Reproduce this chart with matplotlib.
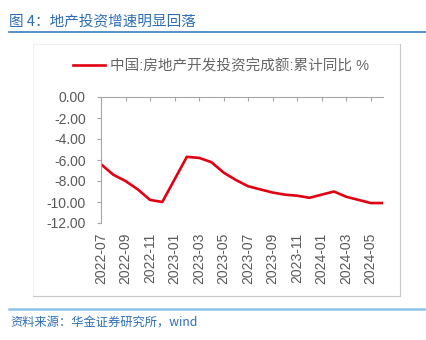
# -*- coding: utf-8 -*-

import matplotlib
matplotlib.use('Agg')
import matplotlib.pyplot as plt
from matplotlib.lines import Line2D
import pandas as pd

plt.rcParams['font.family'] = ['Liberation Sans', 'Noto Sans CJK SC', 'DejaVu Sans']
plt.rcParams['axes.unicode_minus'] = False

# 房地产开发投资完成额累计同比, 1月与2月合并公布
months = ['2022-07', '2022-08', '2022-09', '2022-10', '2022-11', '2022-12',
          '2023-02', '2023-03', '2023-04', '2023-05', '2023-06', '2023-07',
          '2023-08', '2023-09', '2023-10', '2023-11', '2023-12',
          '2024-02', '2024-03', '2024-04', '2024-05', '2024-06']
invest_yoy = [-6.4, -7.4, -8.0, -8.8, -9.8, -10.0,
              -5.7, -5.8, -6.2, -7.2, -7.9, -8.5,
              -8.8, -9.1, -9.3, -9.4, -9.6,
              -9.0, -9.5, -9.8, -10.1, -10.1]
tick_labels = ['2022-07', '2022-09', '2022-11', '2023-01', '2023-03', '2023-05',
               '2023-07', '2023-09', '2023-11', '2024-01', '2024-03', '2024-05']
y_ticks = [0, -2, -4, -6, -8, -10, -12]

title = '图 4：地产投资增速明显回落'
series_name = '中国:房地产开发投资完成额:累计同比 %'
source = '资料来源：华金证券研究所，wind'

W, H = 426, 340
start = pd.Period('2022-07', freq='M')


def month_pos(m):
    return (pd.Period(m, freq='M') - start).n


x = [month_pos(m) for m in months]
xt = [month_pos(m) for m in tick_labels]

fig = plt.figure(figsize=(W / 100, H / 100), dpi=100)
fig.patch.set_facecolor('white')


def fx(px):
    return px / W


def fy(py):
    return 1 - py / H


# title and rules
blue = '#2d6db5'
cjk = ['Noto Sans CJK SC', 'DejaVu Sans']
fig.text(fx(9), fy(21), title, color=blue, fontsize=10.5,
         family=cjk, va='center', ha='left')
fig.add_artist(Line2D([fx(9), 1], [fy(31.5), fy(31.5)], color='#3a7dc2', lw=1.2))
fig.add_artist(Line2D([fx(9), 1], [fy(308.5), fy(308.5)], color='#8ec3ea', lw=1.8))
fig.text(fx(10), fy(323), source, color=blue, fontsize=8.8, style='italic',
         family=cjk, va='center', ha='left')

# chart frame
fig.add_artist(Line2D([fx(33), fx(400)], [fy(44), fy(44)], color='#efefef', lw=0.8))
fig.add_artist(Line2D([fx(33), fx(33)], [fy(44), fy(296)], color='#efefef', lw=0.8))
fig.add_artist(Line2D([fx(400), fx(400)], [fy(44), fy(296)], color='#c8c8c8', lw=0.8))
fig.add_artist(Line2D([fx(33), fx(400)], [fy(296), fy(296)], color='#c8c8c8', lw=0.8))

ax = fig.add_axes([fx(101), fy(223), fx(383) - fx(101), fy(97) - fy(223)])
line, = ax.plot(x, invest_yoy, color='#e00012', lw=1.9, solid_joinstyle='round')

ax.set_xlim(0, 23)
ax.set_ylim(-12, 0)
ax.set_yticks(y_ticks)
ax.set_yticklabels(['{:.2f}'.format(v) for v in y_ticks])
ax.set_xticks(xt)
ax.set_xticklabels(tick_labels, rotation=90)

spine_c = '#a6a6a6'
for s in ['right', 'bottom']:
    ax.spines[s].set_visible(False)
for s in ['left', 'top']:
    ax.spines[s].set_color(spine_c)
    ax.spines[s].set_linewidth(0.8)

ax.tick_params(axis='y', direction='out', length=3, width=0.8, color=spine_c,
               labelsize=10, labelcolor='#595959', pad=8)
ax.tick_params(axis='x', top=True, bottom=False, labeltop=False, labelbottom=True,
               direction='in', length=3, width=0.8, color=spine_c,
               labelsize=10, labelcolor='#595959', pad=7)

fig.legend([line], [series_name], loc='center left',
           bbox_to_anchor=(fx(73), fy(66)), frameon=False, fontsize=10.5,
           handlelength=2.2, handletextpad=0.35, borderpad=0, borderaxespad=0,
           labelcolor='#666666')

fig.savefig('out.png', dpi=100, facecolor='white')
